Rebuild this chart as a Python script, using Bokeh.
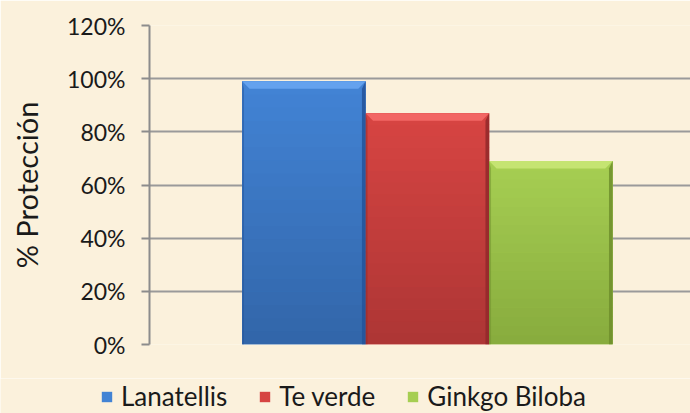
from bokeh.plotting import figure
from bokeh.layouts import column, row
from bokeh.models import (ColumnDataSource, Range1d, FixedTicker, NumeralTickFormatter,
                          Legend, LegendItem)
from bokeh.embed import file_html
from bokeh.resources import INLINE

categories = ["Lanatellis", "Te verde", "Ginkgo Biloba"]
values = [0.99, 0.87, 0.69]
top_colors = [(66, 131, 212), (214, 68, 66), (166, 206, 82)]
bottom_colors = [(50, 102, 170), (174, 54, 53), (136, 172, 62)]
light_colors = ["#64A2EE", "#F26664", "#C5E472"]
dark_colors = ["#24549A", "#92282A", "#6E8E2C"]
y_ticks = [0, 0.2, 0.4, 0.6, 0.8, 1.0, 1.2]

BG = "#FBF1DC"
FONT = "Lato"

xs = list(range(len(categories)))
bar_w = 1.0
bx = 0.06    # bevel width (data units)
by = 0.028   # bevel height (data units)
N = 20       # gradient slices


def hexc(c):
    return "#%02X%02X%02X" % tuple(int(round(v)) for v in c)


p = figure(width=690, height=378, output_backend="svg", toolbar_location=None,
           x_range=Range1d(-1.25, 3.13), y_range=Range1d(0, 1.2),
           x_axis_location=None,
           min_border_left=149, min_border_right=0, min_border_top=25, min_border_bottom=34)
p.background_fill_color = BG
p.border_fill_color = BG
p.outline_line_color = None

body = [hexc(c) for c in top_colors]
src = ColumnDataSource(dict(x=xs, top=values, color=body, label=categories))
r = p.vbar(x="x", top="top", width=bar_w, fill_color="color", line_color=None, source=src)

# vertical gradient slices derived from the values
gl, gr, gb, gt, gc = [], [], [], [], []
for i, (x, v) in enumerate(zip(xs, values)):
    for k in range(N):
        f = k / (N - 1)
        c = [bottom_colors[i][j] + (top_colors[i][j] - bottom_colors[i][j]) * f for j in range(3)]
        gl.append(x - bar_w / 2); gr.append(x + bar_w / 2)
        gb.append(v * k / N); gt.append(min(v, v * (k + 1) / N + 0.002))
        gc.append(hexc(c))
p.quad(left=gl, right=gr, bottom=gb, top=gt, fill_color=gc, line_color=None)

# bevel facets derived from the values
top_x, top_y, right_x, right_y, left_x, left_y = [], [], [], [], [], []
for x, v in zip(xs, values):
    l, rr = x - bar_w / 2, x + bar_w / 2
    top_x.append([l, rr, rr - bx, l + bx]); top_y.append([v, v, v - by, v - by])
    right_x.append([rr, rr, rr - bx * 0.5, rr - bx * 0.5]); right_y.append([v, 0, 0, v - by])
    left_x.append([l, l, l + bx * 0.25, l + bx * 0.25]); left_y.append([v, 0, 0, v - by])
p.patches(top_x, top_y, fill_color=light_colors, line_color=None)
p.patches(right_x, right_y, fill_color=dark_colors, line_color=None, fill_alpha=0.85)
p.patches(left_x, left_y, fill_color=dark_colors, line_color=None, fill_alpha=0.5)

p.xgrid.visible = False
p.ygrid.grid_line_color = "#9A9A9A"
p.ygrid.grid_line_width = 2
p.yaxis.ticker = FixedTicker(ticks=y_ticks)
p.yaxis.formatter = NumeralTickFormatter(format="0%")
p.yaxis.axis_line_color = "#8C8C8C"
p.yaxis.axis_line_width = 2
p.yaxis.major_tick_line_color = "#8C8C8C"
p.yaxis.major_tick_line_width = 2
p.yaxis.major_tick_out = 8
p.yaxis.major_tick_in = 0
p.yaxis.minor_tick_line_color = None
p.yaxis.major_label_text_font = FONT
p.yaxis.major_label_text_font_size = "23px"
p.yaxis.major_label_text_color = "#1A1A1A"
p.yaxis.major_label_standoff = 16
p.yaxis.axis_label = "% Protección"
p.yaxis.axis_label_text_font = FONT
p.yaxis.axis_label_text_font_style = "normal"
p.yaxis.axis_label_text_font_size = "29px"
p.yaxis.axis_label_text_color = "#1A1A1A"
p.yaxis.axis_label_standoff = 20

# legend strip below the chart
q = figure(width=690, height=35, output_backend="svg", toolbar_location=None,
           x_range=Range1d(-100, -99), y_range=Range1d(0, 1),
           x_axis_location=None, y_axis_location=None,
           min_border_left=0, min_border_right=0, min_border_top=0, min_border_bottom=0)
q.background_fill_color = BG
q.border_fill_color = BG
q.outline_line_color = None
q.grid.visible = False
rq = q.vbar(x="x", top="top", width=bar_w, fill_color="color", line_color=None, source=src)

legend = Legend(items=[LegendItem(label=c, renderers=[rq], index=i) for i, c in enumerate(categories)],
                orientation="horizontal", location=(100, 1))
legend.background_fill_alpha = 0
legend.border_line_color = None
legend.padding = 0
legend.margin = 0
legend.spacing = 31
legend.glyph_width = 13
legend.glyph_height = 13
legend.label_standoff = 8
legend.label_text_font = FONT
legend.label_text_font_size = "26px"
legend.label_text_color = "#1A1A1A"
q.add_layout(legend, "center")

layout = column(p, row(q), spacing=0)
html = file_html(layout, INLINE)
html = html.replace("<body>", '<body style="background:%s">' % BG, 1)
open("out.html", "w").write(html)
